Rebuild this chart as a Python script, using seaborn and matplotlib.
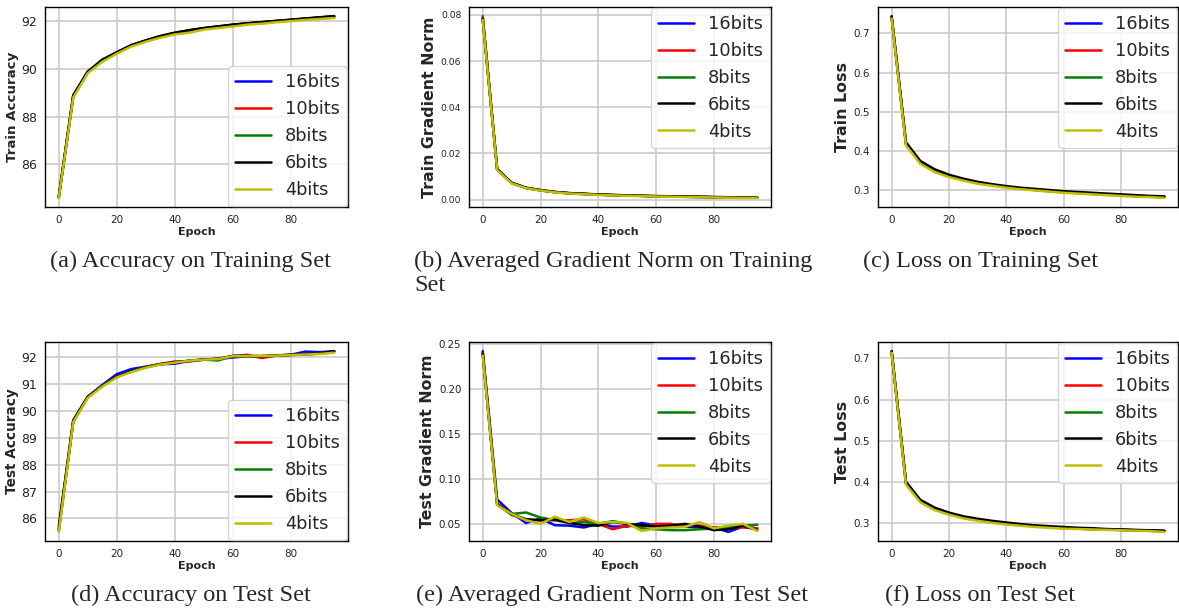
import matplotlib
matplotlib.use("Agg")
import matplotlib.pyplot as plt
import seaborn as sns
import pandas as pd

epochs = [0, 5, 10, 15, 20, 25, 30, 35, 40, 45, 50, 55, 60, 65, 70, 75, 80, 85, 90, 95]
bits = ["16bits", "10bits", "8bits", "6bits", "4bits"]
colors = ["b", "r", "g", "k", "y"]

# (a) train accuracy
train_acc_16 = [84.62, 88.85, 89.88, 90.36, 90.68, 90.98, 91.18, 91.36, 91.50, 91.60, 91.70, 91.77, 91.84, 91.90, 91.95, 92.00, 92.05, 92.10, 92.16, 92.21]
train_acc_10 = [84.60, 88.88, 89.86, 90.38, 90.70, 90.99, 91.19, 91.37, 91.52, 91.61, 91.71, 91.78, 91.85, 91.91, 91.96, 92.01, 92.06, 92.11, 92.16, 92.20]
train_acc_8 = [84.61, 88.86, 89.87, 90.40, 90.69, 90.98, 91.18, 91.36, 91.51, 91.62, 91.70, 91.78, 91.86, 91.91, 91.96, 92.01, 92.06, 92.11, 92.15, 92.19]
train_acc_6 = [84.63, 88.90, 89.89, 90.37, 90.70, 91.00, 91.20, 91.38, 91.52, 91.63, 91.72, 91.79, 91.86, 91.92, 91.97, 92.02, 92.07, 92.12, 92.17, 92.22]
train_acc_4 = [84.58, 88.80, 89.82, 90.30, 90.64, 90.94, 91.14, 91.31, 91.45, 91.52, 91.65, 91.72, 91.78, 91.86, 91.90, 91.96, 92.01, 92.06, 92.10, 92.14]

# (b) train gradient norm
train_grad_16 = [0.0785, 0.0130, 0.0072, 0.0050, 0.0040, 0.0032, 0.0027, 0.0024, 0.0021, 0.0019, 0.0017, 0.0016, 0.0014, 0.0013, 0.0012, 0.0011, 0.0010, 0.0009, 0.0008, 0.0008]
train_grad_10 = [0.0795, 0.0131, 0.0072, 0.0050, 0.0040, 0.0032, 0.0027, 0.0024, 0.0021, 0.0019, 0.0017, 0.0016, 0.0014, 0.0013, 0.0012, 0.0011, 0.0010, 0.0009, 0.0008, 0.0008]
train_grad_8 = [0.0785, 0.0130, 0.0071, 0.0050, 0.0040, 0.0032, 0.0027, 0.0024, 0.0021, 0.0019, 0.0017, 0.0016, 0.0014, 0.0013, 0.0012, 0.0011, 0.0010, 0.0009, 0.0008, 0.0008]
train_grad_6 = [0.0782, 0.0132, 0.0073, 0.0051, 0.0041, 0.0033, 0.0028, 0.0025, 0.0022, 0.0020, 0.0018, 0.0016, 0.0015, 0.0014, 0.0013, 0.0012, 0.0011, 0.0010, 0.0009, 0.0008]
train_grad_4 = [0.0778, 0.0128, 0.0070, 0.0049, 0.0039, 0.0031, 0.0026, 0.0023, 0.0020, 0.0018, 0.0016, 0.0015, 0.0013, 0.0012, 0.0011, 0.0010, 0.0009, 0.0008, 0.0007, 0.0007]

# (c) train loss
train_loss_16 = [0.741, 0.418, 0.371, 0.350, 0.336, 0.327, 0.319, 0.313, 0.308, 0.304, 0.301, 0.298, 0.295, 0.293, 0.291, 0.289, 0.287, 0.285, 0.284, 0.282]
train_loss_10 = [0.741, 0.417, 0.370, 0.349, 0.336, 0.326, 0.319, 0.313, 0.308, 0.304, 0.300, 0.297, 0.295, 0.292, 0.290, 0.288, 0.287, 0.285, 0.283, 0.282]
train_loss_8 = [0.740, 0.418, 0.371, 0.350, 0.336, 0.327, 0.319, 0.313, 0.308, 0.304, 0.301, 0.298, 0.295, 0.293, 0.291, 0.289, 0.287, 0.285, 0.284, 0.282]
train_loss_6 = [0.744, 0.422, 0.374, 0.353, 0.339, 0.329, 0.321, 0.315, 0.310, 0.306, 0.303, 0.300, 0.297, 0.295, 0.293, 0.291, 0.289, 0.287, 0.285, 0.284]
train_loss_4 = [0.738, 0.414, 0.367, 0.346, 0.333, 0.324, 0.316, 0.311, 0.306, 0.302, 0.299, 0.296, 0.293, 0.291, 0.289, 0.287, 0.285, 0.283, 0.282, 0.280]

# (d) test accuracy
test_acc_16 = [85.55, 89.60, 90.52, 90.96, 91.36, 91.55, 91.64, 91.73, 91.75, 91.85, 91.90, 91.93, 91.98, 92.03, 92.03, 92.05, 92.08, 92.20, 92.18, 92.21]
test_acc_10 = [85.60, 89.62, 90.52, 90.92, 91.28, 91.46, 91.62, 91.74, 91.83, 91.83, 91.90, 91.93, 92.03, 92.08, 91.96, 92.05, 92.07, 92.10, 92.13, 92.21]
test_acc_8 = [85.58, 89.60, 90.50, 90.93, 91.27, 91.47, 91.63, 91.73, 91.80, 91.86, 91.90, 91.87, 92.04, 92.03, 92.03, 92.05, 92.08, 92.10, 92.13, 92.20]
test_acc_6 = [85.70, 89.65, 90.52, 90.92, 91.27, 91.46, 91.62, 91.73, 91.80, 91.86, 91.91, 91.93, 92.04, 92.03, 92.03, 92.06, 92.08, 92.10, 92.13, 92.22]
test_acc_4 = [85.50, 89.58, 90.48, 90.90, 91.24, 91.44, 91.60, 91.72, 91.79, 91.86, 91.90, 91.92, 92.03, 92.03, 92.04, 92.05, 92.07, 92.09, 92.11, 92.16]

# (e) test gradient norm
test_grad_16 = [0.242, 0.077, 0.062, 0.051, 0.056, 0.0485, 0.048, 0.046, 0.050, 0.047, 0.047, 0.051, 0.048, 0.049, 0.047, 0.046, 0.046, 0.041, 0.047, 0.045]
test_grad_10 = [0.240, 0.072, 0.061, 0.055, 0.054, 0.054, 0.054, 0.055, 0.050, 0.044, 0.048, 0.0467, 0.050, 0.050, 0.048, 0.048, 0.046, 0.046, 0.046, 0.045]
test_grad_8 = [0.238, 0.071, 0.061, 0.0626, 0.057, 0.054, 0.051, 0.052, 0.050, 0.053, 0.050, 0.045, 0.044, 0.043, 0.043, 0.044, 0.045, 0.046, 0.048, 0.049]
test_grad_6 = [0.239, 0.072, 0.060, 0.055, 0.054, 0.055, 0.051, 0.0485, 0.048, 0.052, 0.050, 0.0485, 0.047, 0.048, 0.050, 0.047, 0.043, 0.044, 0.048, 0.043]
test_grad_4 = [0.237, 0.0707, 0.061, 0.054, 0.050, 0.058, 0.052, 0.057, 0.051, 0.052, 0.051, 0.042, 0.045, 0.046, 0.0467, 0.052, 0.045, 0.048, 0.050, 0.042]

# (f) test loss
test_loss_16 = [0.716, 0.396, 0.353, 0.334, 0.322, 0.314, 0.307, 0.302, 0.298, 0.295, 0.292, 0.290, 0.288, 0.286, 0.285, 0.284, 0.283, 0.282, 0.281, 0.280]
test_loss_10 = [0.716, 0.396, 0.352, 0.333, 0.322, 0.313, 0.307, 0.302, 0.298, 0.295, 0.292, 0.290, 0.288, 0.286, 0.285, 0.284, 0.283, 0.282, 0.281, 0.280]
test_loss_8 = [0.715, 0.396, 0.353, 0.334, 0.322, 0.314, 0.307, 0.302, 0.298, 0.295, 0.292, 0.290, 0.288, 0.286, 0.285, 0.284, 0.283, 0.282, 0.281, 0.280]
test_loss_6 = [0.718, 0.400, 0.356, 0.337, 0.325, 0.316, 0.310, 0.305, 0.301, 0.297, 0.294, 0.292, 0.290, 0.288, 0.287, 0.285, 0.284, 0.283, 0.282, 0.281]
test_loss_4 = [0.714, 0.393, 0.350, 0.331, 0.320, 0.311, 0.305, 0.300, 0.296, 0.293, 0.290, 0.288, 0.286, 0.285, 0.284, 0.283, 0.282, 0.281, 0.280, 0.278]

# y tick values per panel
yticks_a = [86, 88, 90, 92]
yticks_b = [0.00, 0.02, 0.04, 0.06, 0.08]
yticks_c = [0.3, 0.4, 0.5, 0.6, 0.7]
yticks_d = [86, 87, 88, 89, 90, 91, 92]
yticks_e = [0.05, 0.10, 0.15, 0.20, 0.25]
yticks_f = [0.3, 0.4, 0.5, 0.6, 0.7]

panels = [
    ("Train Accuracy", [train_acc_16, train_acc_10, train_acc_8, train_acc_6, train_acc_4], "lower right",
     "(a) Accuracy on Training Set", yticks_a, "{:.0f}"),
    ("Train Gradient Norm", [train_grad_16, train_grad_10, train_grad_8, train_grad_6, train_grad_4], "upper right",
     "(b) Averaged Gradient Norm on Training\nSet", yticks_b, "{:.2f}"),
    ("Train Loss", [train_loss_16, train_loss_10, train_loss_8, train_loss_6, train_loss_4], "upper right",
     "(c) Loss on Training Set", yticks_c, "{:.1f}"),
    ("Test Accuracy", [test_acc_16, test_acc_10, test_acc_8, test_acc_6, test_acc_4], "lower right",
     "(d) Accuracy on Test Set", yticks_d, "{:.0f}"),
    ("Test Gradient Norm", [test_grad_16, test_grad_10, test_grad_8, test_grad_6, test_grad_4], "upper right",
     "(e) Averaged Gradient Norm on Test Set", yticks_e, "{:.2f}"),
    ("Test Loss", [test_loss_16, test_loss_10, test_loss_8, test_loss_6, test_loss_4], "upper right",
     "(f) Loss on Test Set", yticks_f, "{:.1f}"),
]

# the sub-figures were scaled differently in the paper, so font sizes vary per panel
tick_sizes = [9, 6.6, 7.5, 9, 7.4, 7.5]
ylabel_sizes = [9.6, 11.3, 11.4, 9.8, 11.3, 11.4]
ylabel_pads = [2, 3, 3, 2, 3, 3]

sns.set_style("whitegrid", {"grid.color": "#c8c8c8", "axes.edgecolor": "black"})
plt.rcParams['font.family'] = ['DejaVu Sans']

W, H = 1179, 611
fig = plt.figure(figsize=(W / 100, H / 100), dpi=100)

# axes boxes in pixels
lefts = [45, 469, 878]
rights = [348, 771, 1178]
tops = [7, 342]
bottoms = [207, 541]
caption_pos = [(190, "center"), (414, "left"), (981, "center"),
               (191, "center"), (612, "center"), (980, "center")]
cap_top = [251, 585]

for i, (ylabel, series, loc, caption, yt, fmt) in enumerate(panels):
    r, c = divmod(i, 3)
    ax = fig.add_axes([lefts[c] / W, 1 - bottoms[r] / H,
                       (rights[c] - lefts[c]) / W, (bottoms[r] - tops[r]) / H])
    rows = []
    for name, vals in zip(bits, series):
        for e, v in zip(epochs, vals):
            rows.append({"Epoch": e, "value": v, "bits": name})
    df = pd.DataFrame(rows)
    sns.lineplot(data=df, x="Epoch", y="value", hue="bits", hue_order=bits,
                 palette=colors, lw=1.8, ax=ax)
    ax.set_xlabel("Epoch", fontsize=8, fontweight="bold", labelpad=1.5)
    ax.set_ylabel(ylabel, fontsize=ylabel_sizes[i], fontweight="bold", labelpad=ylabel_pads[i])
    ax.set_xticks([0, 20, 40, 60, 80])
    ax.set_yticks(yt)
    ax.set_yticklabels([fmt.format(v) for v in yt])
    ax.tick_params(axis="y", labelsize=tick_sizes[i], pad=2, colors="#222222")
    ax.tick_params(axis="x", labelsize=7.5, pad=2, colors="#222222")
    ax.grid(lw=1.1)
    for s in ax.spines.values():
        s.set_linewidth(1.0)
        s.set_color("black")
    ax.legend(loc=loc, fontsize=12.8, borderaxespad=0.05, title=None)
    x, ha = caption_pos[i]
    fig.text(x / W, 1 - cap_top[r] / H, caption, ha=ha, va="top",
             fontsize=17.5, family="Liberation Serif", linespacing=1.15)

fig.savefig("out.png", dpi=100)
